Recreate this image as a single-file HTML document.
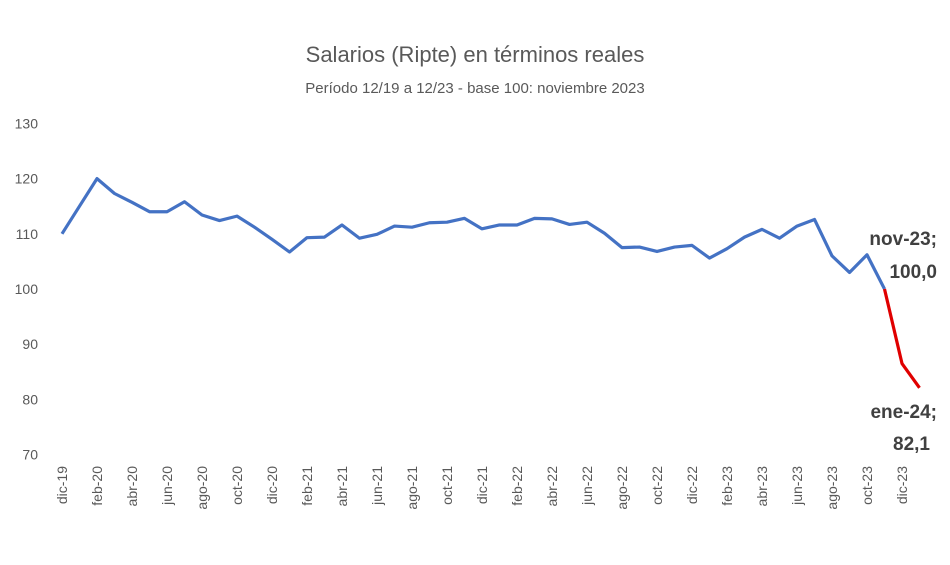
<!DOCTYPE html>
<html><head><meta charset="utf-8"><style>
body{margin:0;background:#fff;font-family:"Liberation Sans",sans-serif;}
svg text{font-family:"Liberation Sans",sans-serif;}
</style></head><body>
<svg id="chart" width="950" height="560">
<text x="475" y="62" text-anchor="middle" font-size="22" fill="#595959">Salarios (Ripte) en términos reales</text>
<text x="475" y="93" text-anchor="middle" font-size="15" fill="#595959">Período 12/19 a 12/23 - base 100: noviembre 2023</text>
<g id="yaxis"></g><g id="xaxis"></g><g id="lines"></g>
<text x="937" y="245" text-anchor="end" font-size="19" font-weight="bold" fill="#404040">nov-23;</text>
<text x="937" y="278" text-anchor="end" font-size="19" font-weight="bold" fill="#404040">100,0</text>
<text x="937" y="418" text-anchor="end" font-size="19" font-weight="bold" fill="#404040">ene-24;</text>
<text x="930" y="450" text-anchor="end" font-size="19" font-weight="bold" fill="#404040">82,1</text>
</svg>
<script>
const months=["dic-19","ene-20","feb-20","mar-20","abr-20","may-20","jun-20","jul-20","ago-20","sep-20","oct-20","nov-20","dic-20","ene-21","feb-21","mar-21","abr-21","may-21","jun-21","jul-21","ago-21","sep-21","oct-21","nov-21","dic-21","ene-22","feb-22","mar-22","abr-22","may-22","jun-22","jul-22","ago-22","sep-22","oct-22","nov-22","dic-22","ene-23","feb-23","mar-23","abr-23","may-23","jun-23","jul-23","ago-23","sep-23","oct-23","nov-23","dic-23","ene-24"];
const values=[110,115,120,117.3,115.7,114,114,115.8,113.4,112.4,113.2,111.2,109,106.7,109.3,109.4,111.6,109.2,109.9,111.4,111.2,112,112.1,112.8,110.9,111.6,111.6,112.8,112.7,111.7,112.1,110.1,107.5,107.6,106.8,107.6,107.9,105.6,107.3,109.4,110.8,109.2,111.4,112.6,106,103,106.2,100,86.5,82.1];
const yTicks=[70,80,90,100,110,120,130];
const splitIndex=47;
const NS="http://www.w3.org/2000/svg";
const x=i=>62+i*17.5;
const y=v=>289-(v-100)*5.52;
const ya=document.getElementById('yaxis');
yTicks.forEach(t=>{const e=document.createElementNS(NS,'text');
e.setAttribute('x',38);e.setAttribute('y',y(t)+5);e.setAttribute('text-anchor','end');e.setAttribute('font-size','14');e.setAttribute('fill','#595959');e.textContent=t;


ya.appendChild(e);});
const xa=document.getElementById('xaxis');
months.forEach((m,i)=>{if(i%2)return;const e=document.createElementNS(NS,'text');
e.setAttribute('transform','translate('+(x(i)+5)+',466) rotate(-90)');e.setAttribute('text-anchor','end');e.setAttribute('font-size','14');e.setAttribute('fill','#595959');e.textContent=m;


xa.appendChild(e);});
const g=document.getElementById('lines');
function line(a,b,col,name){const p=document.createElementNS(NS,'polyline');let pts=[];for(let i=a;i<=b;i++)pts.push(x(i)+','+y(values[i]));
p.setAttribute('points',pts.join(' '));p.setAttribute('fill','none');p.setAttribute('stroke',col);p.setAttribute('stroke-width','3.2');p.setAttribute('stroke-linejoin','round');


g.appendChild(p);}
line(0,splitIndex,'#4472C4','series-line-blue');
line(splitIndex,values.length-1,'#E00000','series-line-red');
</script>
</body></html>
